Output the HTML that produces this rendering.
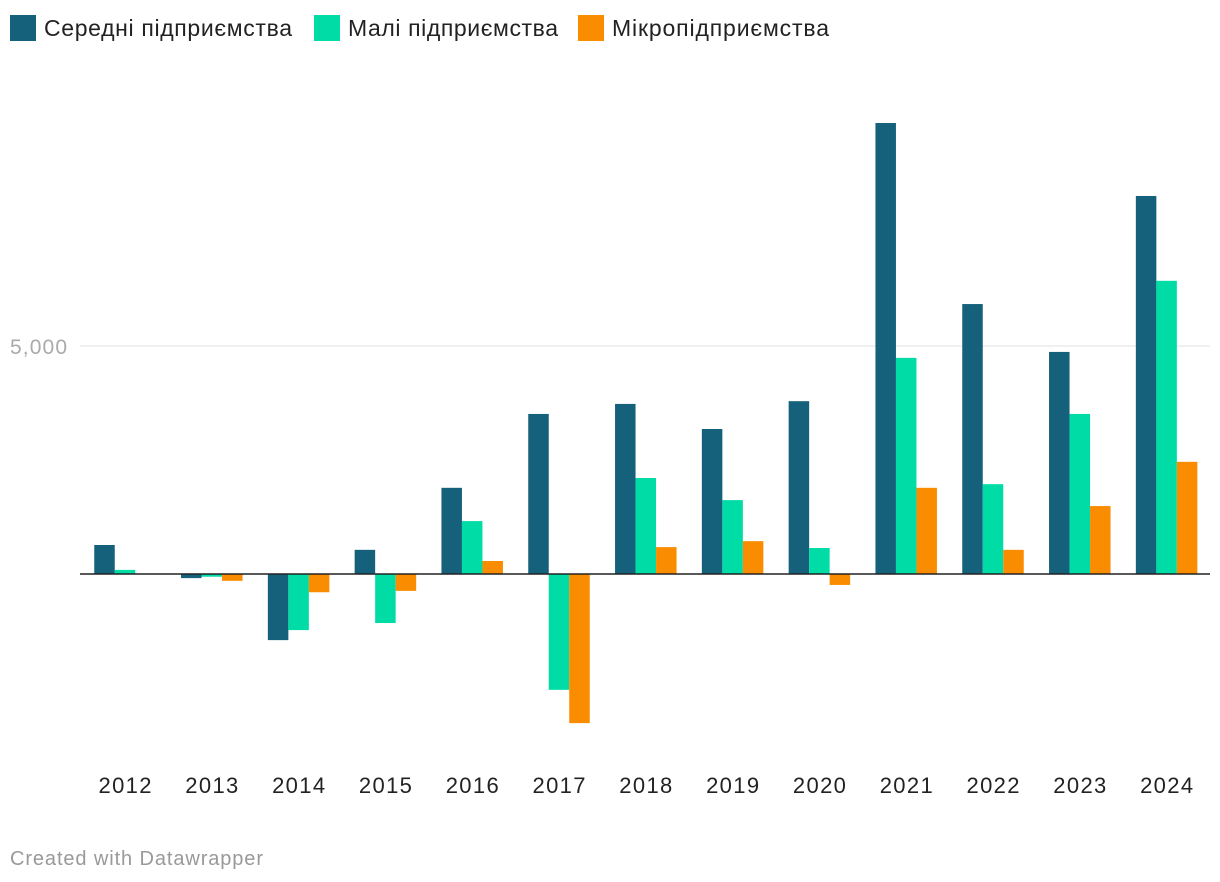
<!DOCTYPE html>
<html><head><meta charset="utf-8"><style>
body{margin:0;background:#fff;font-family:"Liberation Sans",sans-serif;}
svg{display:block}
</style></head><body>
<svg id="c" width="1220" height="882"></svg>
<script>
const years=["2012","2013","2014","2015","2016","2017","2018","2019","2020","2021","2022","2023","2024"];
const medium=[636,-90,-1450,530,1890,3510,3730,3180,3790,9890,5920,4870,8290];
const small=[90,-60,-1230,-1075,1160,-2540,2105,1620,570,4740,1970,3510,6430];
const micro=[0,-150,-400,-370,285,-3270,590,720,-240,1890,530,1490,2460];
const seriesNames=["Середні підприємства","Малі підприємства","Мікропідприємства"];
const colors=["#15607a","#00dca6","#fa8c00"];
const ticks=[5000];
const NS="http://www.w3.org/2000/svg";
const svg=document.getElementById('c');
const y0=574, k=228/5000;
const y=v=>y0-v*k;
const xc=i=>125+i*86.8;
const bw=20.5;
function el(t,a){const e=document.createElementNS(NS,t);for(const n in a)e.setAttribute(n,a[n]);svg.appendChild(e);return e;}
ticks.forEach(t=>{
 const g=el('line',{x1:80,x2:1210,y1:y(t),y2:y(t),stroke:'#e0e0e0','stroke-width':1});
 
 
 const l=el('text',{x:10,y:y(t)+8,'font-size':21,fill:'#aaa',textLength:57});
 l.textContent=t.toLocaleString('en-US');
 
 
});
[medium,small,micro].forEach((s,si)=>{
 s.forEach((v,i)=>{
  const x=xc(i)-1.5*bw+si*bw;
  const r=el('rect',{x:x,y:Math.min(y(v),y0),width:bw,height:Math.abs(y(v)-y0),fill:colors[si]});
  
  
 });
});
const ax=el('line',{x1:80,x2:1210,y1:y0,y2:y0,stroke:'#222','stroke-width':1.5});


years.forEach((yr,i)=>{
 const t=el('text',{x:xc(i)-26.5,y:793,'font-size':22,fill:'#222',textLength:53});
 t.textContent=yr;
 
 
});
const lx=[10,314,578];
const lw=[248,210,217];
seriesNames.forEach((n,i)=>{
 const r=el('rect',{x:lx[i],y:15,width:26,height:26,fill:colors[i]});
 
 
 const t=el('text',{x:lx[i]+34,y:36,'font-size':23,fill:'#222',textLength:lw[i]});
 t.textContent=n;
 
 
});
const f=el('text',{x:10,y:865,'font-size':20,fill:'#999',textLength:253});
f.textContent="Created with Datawrapper";


</script>
</body></html>
